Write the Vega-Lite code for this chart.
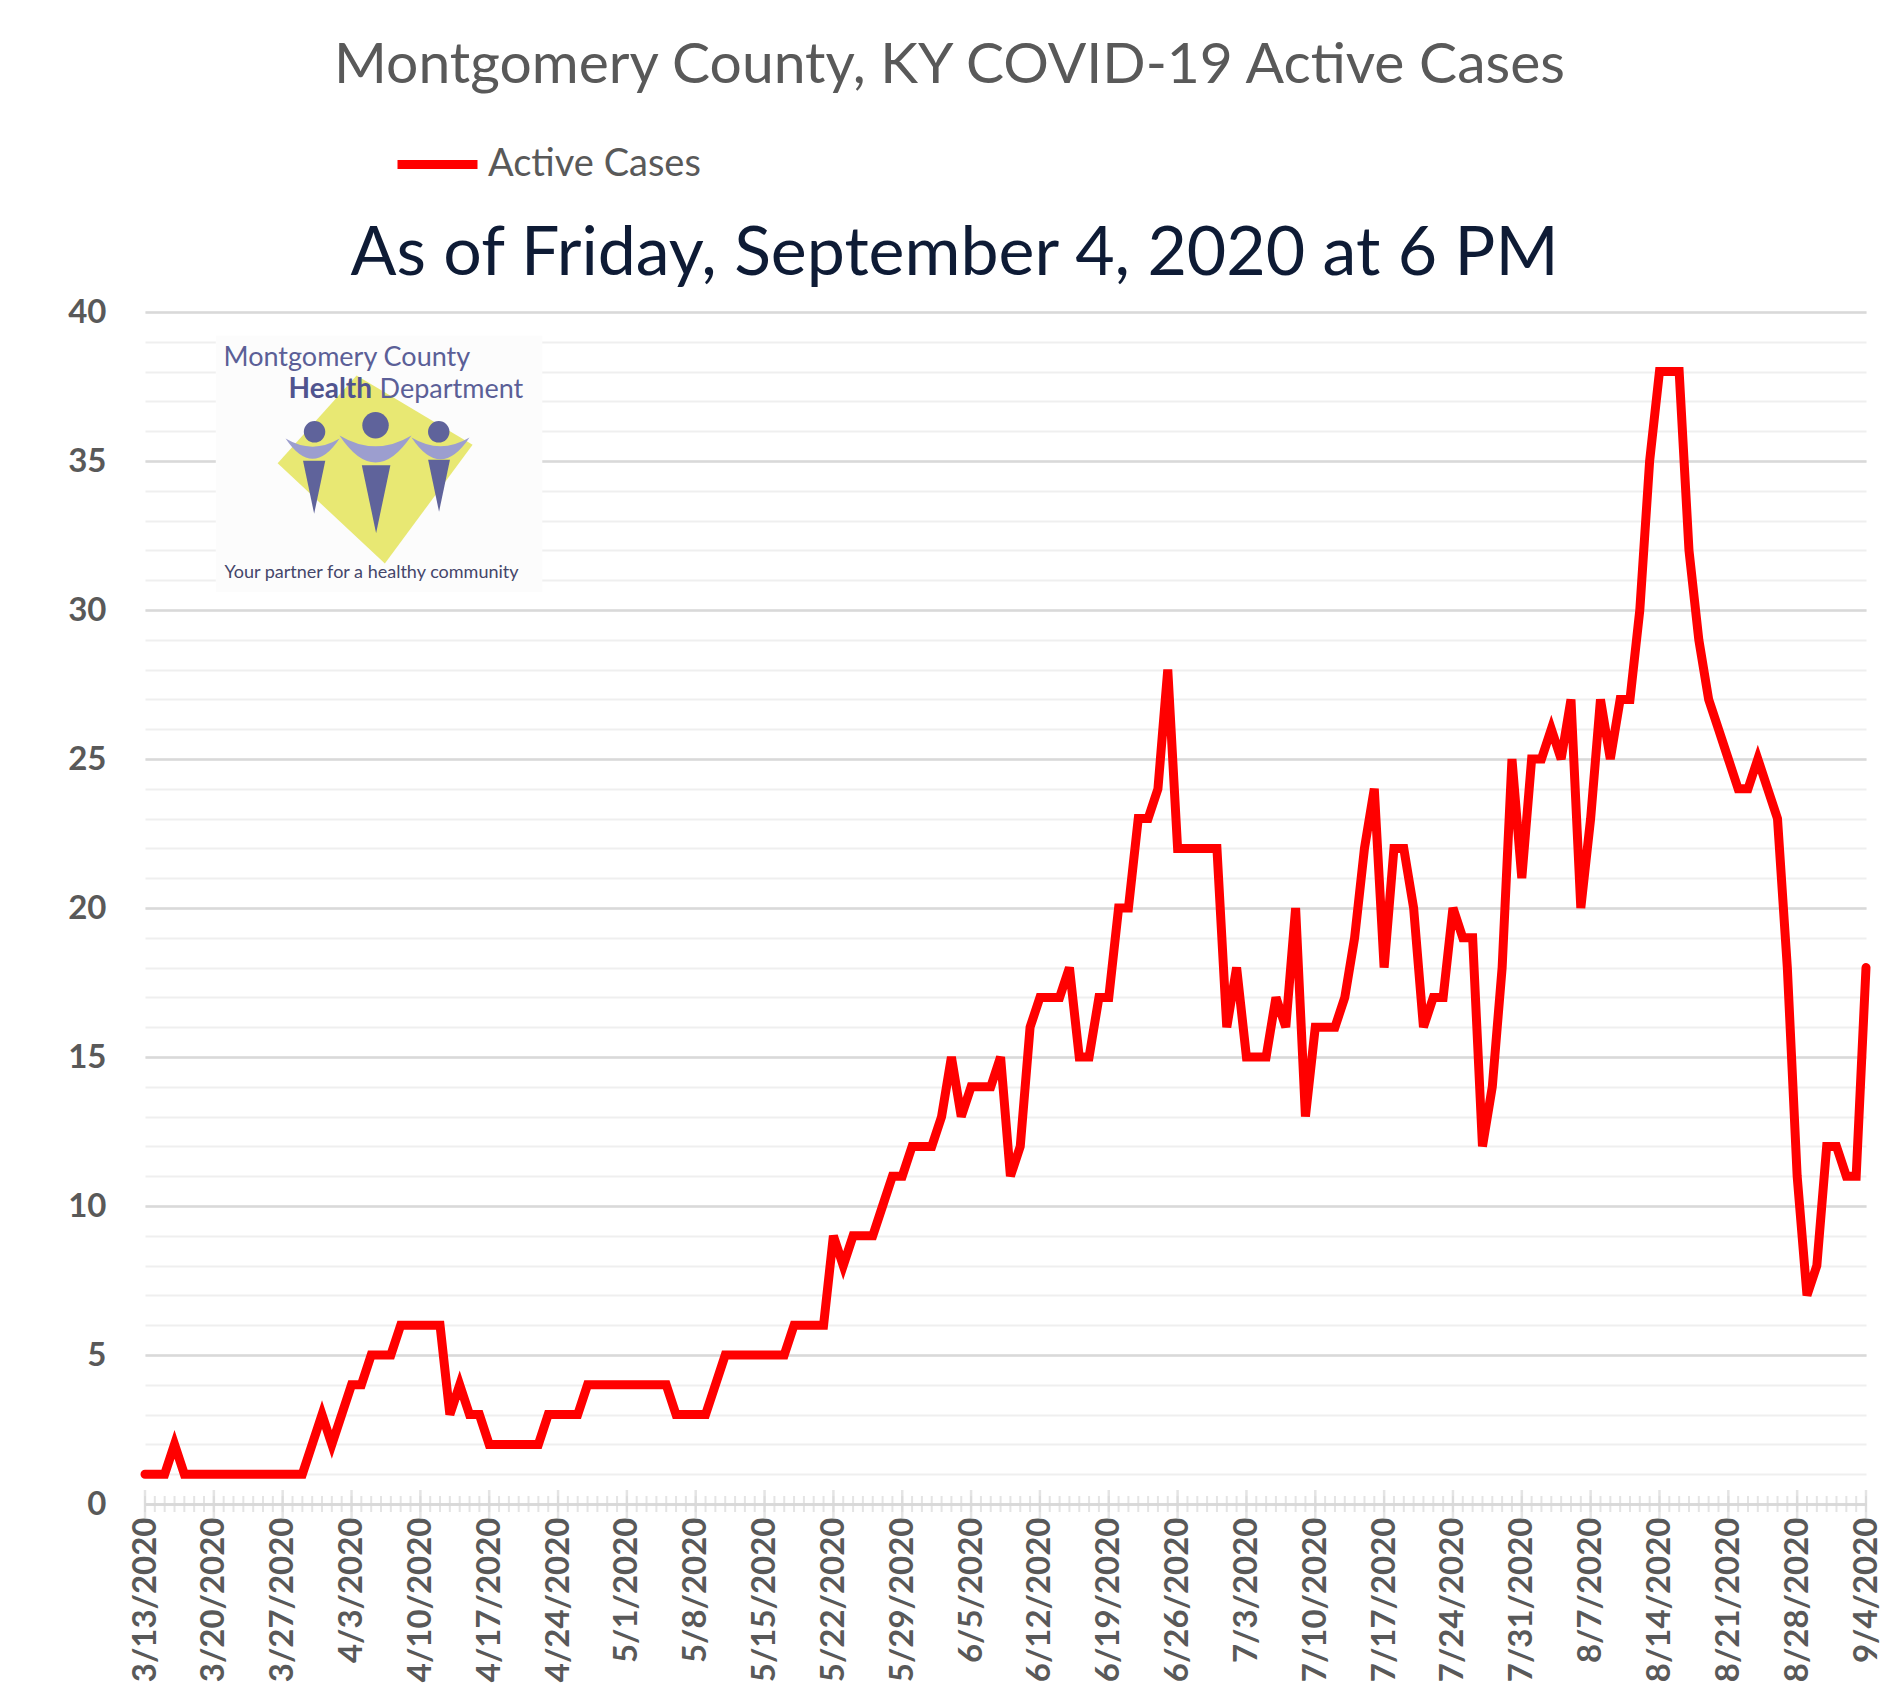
{
  "$schema": "https://vega.github.io/schema/vega-lite/v6.json",
  "width": 1721,
  "height": 1192,
  "autosize": {"type": "none"},
  "padding": {"left": 145, "top": 312, "right": 19, "bottom": 193},
  "background": "white",
  "title": {
    "text": "Montgomery County, KY COVID-19 Active Cases",
    "font": "Lato",
    "fontSize": 57,
    "fontWeight": "normal",
    "color": "#595959",
    "anchor": "middle",
    "frame": "group",
    "dx": -56,
    "offset": -20,
    "baseline": "alphabetic"
  },
  "datasets": {
    "cases": [
      {"date": "2020-03-13", "cases": 1}, {"date": "2020-03-14", "cases": 1}, {"date": "2020-03-15", "cases": 1},
      {"date": "2020-03-16", "cases": 2}, {"date": "2020-03-17", "cases": 1}, {"date": "2020-03-18", "cases": 1},
      {"date": "2020-03-19", "cases": 1}, {"date": "2020-03-20", "cases": 1}, {"date": "2020-03-21", "cases": 1},
      {"date": "2020-03-22", "cases": 1}, {"date": "2020-03-23", "cases": 1}, {"date": "2020-03-24", "cases": 1},
      {"date": "2020-03-25", "cases": 1}, {"date": "2020-03-26", "cases": 1}, {"date": "2020-03-27", "cases": 1},
      {"date": "2020-03-28", "cases": 1}, {"date": "2020-03-29", "cases": 1}, {"date": "2020-03-30", "cases": 2},
      {"date": "2020-03-31", "cases": 3},
      {"date": "2020-04-01", "cases": 2}, {"date": "2020-04-02", "cases": 3}, {"date": "2020-04-03", "cases": 4},
      {"date": "2020-04-04", "cases": 4}, {"date": "2020-04-05", "cases": 5}, {"date": "2020-04-06", "cases": 5},
      {"date": "2020-04-07", "cases": 5}, {"date": "2020-04-08", "cases": 6}, {"date": "2020-04-09", "cases": 6},
      {"date": "2020-04-10", "cases": 6}, {"date": "2020-04-11", "cases": 6}, {"date": "2020-04-12", "cases": 6},
      {"date": "2020-04-13", "cases": 3}, {"date": "2020-04-14", "cases": 4}, {"date": "2020-04-15", "cases": 3},
      {"date": "2020-04-16", "cases": 3}, {"date": "2020-04-17", "cases": 2}, {"date": "2020-04-18", "cases": 2},
      {"date": "2020-04-19", "cases": 2}, {"date": "2020-04-20", "cases": 2}, {"date": "2020-04-21", "cases": 2},
      {"date": "2020-04-22", "cases": 2}, {"date": "2020-04-23", "cases": 3}, {"date": "2020-04-24", "cases": 3},
      {"date": "2020-04-25", "cases": 3}, {"date": "2020-04-26", "cases": 3}, {"date": "2020-04-27", "cases": 4},
      {"date": "2020-04-28", "cases": 4}, {"date": "2020-04-29", "cases": 4}, {"date": "2020-04-30", "cases": 4},
      {"date": "2020-05-01", "cases": 4}, {"date": "2020-05-02", "cases": 4}, {"date": "2020-05-03", "cases": 4},
      {"date": "2020-05-04", "cases": 4}, {"date": "2020-05-05", "cases": 4}, {"date": "2020-05-06", "cases": 3},
      {"date": "2020-05-07", "cases": 3}, {"date": "2020-05-08", "cases": 3}, {"date": "2020-05-09", "cases": 3},
      {"date": "2020-05-10", "cases": 4}, {"date": "2020-05-11", "cases": 5}, {"date": "2020-05-12", "cases": 5},
      {"date": "2020-05-13", "cases": 5}, {"date": "2020-05-14", "cases": 5}, {"date": "2020-05-15", "cases": 5},
      {"date": "2020-05-16", "cases": 5}, {"date": "2020-05-17", "cases": 5}, {"date": "2020-05-18", "cases": 6},
      {"date": "2020-05-19", "cases": 6}, {"date": "2020-05-20", "cases": 6}, {"date": "2020-05-21", "cases": 6},
      {"date": "2020-05-22", "cases": 9}, {"date": "2020-05-23", "cases": 8}, {"date": "2020-05-24", "cases": 9},
      {"date": "2020-05-25", "cases": 9}, {"date": "2020-05-26", "cases": 9}, {"date": "2020-05-27", "cases": 10},
      {"date": "2020-05-28", "cases": 11}, {"date": "2020-05-29", "cases": 11}, {"date": "2020-05-30", "cases": 12},
      {"date": "2020-05-31", "cases": 12},
      {"date": "2020-06-01", "cases": 12}, {"date": "2020-06-02", "cases": 13}, {"date": "2020-06-03", "cases": 15},
      {"date": "2020-06-04", "cases": 13}, {"date": "2020-06-05", "cases": 14}, {"date": "2020-06-06", "cases": 14},
      {"date": "2020-06-07", "cases": 14}, {"date": "2020-06-08", "cases": 15}, {"date": "2020-06-09", "cases": 11},
      {"date": "2020-06-10", "cases": 12}, {"date": "2020-06-11", "cases": 16}, {"date": "2020-06-12", "cases": 17},
      {"date": "2020-06-13", "cases": 17}, {"date": "2020-06-14", "cases": 17}, {"date": "2020-06-15", "cases": 18},
      {"date": "2020-06-16", "cases": 15}, {"date": "2020-06-17", "cases": 15}, {"date": "2020-06-18", "cases": 17},
      {"date": "2020-06-19", "cases": 17}, {"date": "2020-06-20", "cases": 20}, {"date": "2020-06-21", "cases": 20},
      {"date": "2020-06-22", "cases": 23}, {"date": "2020-06-23", "cases": 23}, {"date": "2020-06-24", "cases": 24},
      {"date": "2020-06-25", "cases": 28}, {"date": "2020-06-26", "cases": 22}, {"date": "2020-06-27", "cases": 22},
      {"date": "2020-06-28", "cases": 22}, {"date": "2020-06-29", "cases": 22}, {"date": "2020-06-30", "cases": 22},
      {"date": "2020-07-01", "cases": 16}, {"date": "2020-07-02", "cases": 18}, {"date": "2020-07-03", "cases": 15},
      {"date": "2020-07-04", "cases": 15}, {"date": "2020-07-05", "cases": 15}, {"date": "2020-07-06", "cases": 17},
      {"date": "2020-07-07", "cases": 16}, {"date": "2020-07-08", "cases": 20}, {"date": "2020-07-09", "cases": 13},
      {"date": "2020-07-10", "cases": 16}, {"date": "2020-07-11", "cases": 16}, {"date": "2020-07-12", "cases": 16},
      {"date": "2020-07-13", "cases": 17}, {"date": "2020-07-14", "cases": 19}, {"date": "2020-07-15", "cases": 22},
      {"date": "2020-07-16", "cases": 24}, {"date": "2020-07-17", "cases": 18}, {"date": "2020-07-18", "cases": 22},
      {"date": "2020-07-19", "cases": 22}, {"date": "2020-07-20", "cases": 20}, {"date": "2020-07-21", "cases": 16},
      {"date": "2020-07-22", "cases": 17}, {"date": "2020-07-23", "cases": 17}, {"date": "2020-07-24", "cases": 20},
      {"date": "2020-07-25", "cases": 19}, {"date": "2020-07-26", "cases": 19}, {"date": "2020-07-27", "cases": 12},
      {"date": "2020-07-28", "cases": 14}, {"date": "2020-07-29", "cases": 18}, {"date": "2020-07-30", "cases": 25},
      {"date": "2020-07-31", "cases": 21},
      {"date": "2020-08-01", "cases": 25}, {"date": "2020-08-02", "cases": 25}, {"date": "2020-08-03", "cases": 26},
      {"date": "2020-08-04", "cases": 25}, {"date": "2020-08-05", "cases": 27}, {"date": "2020-08-06", "cases": 20},
      {"date": "2020-08-07", "cases": 23}, {"date": "2020-08-08", "cases": 27}, {"date": "2020-08-09", "cases": 25},
      {"date": "2020-08-10", "cases": 27}, {"date": "2020-08-11", "cases": 27}, {"date": "2020-08-12", "cases": 30},
      {"date": "2020-08-13", "cases": 35}, {"date": "2020-08-14", "cases": 38}, {"date": "2020-08-15", "cases": 38},
      {"date": "2020-08-16", "cases": 38}, {"date": "2020-08-17", "cases": 32}, {"date": "2020-08-18", "cases": 29},
      {"date": "2020-08-19", "cases": 27}, {"date": "2020-08-20", "cases": 26}, {"date": "2020-08-21", "cases": 25},
      {"date": "2020-08-22", "cases": 24}, {"date": "2020-08-23", "cases": 24}, {"date": "2020-08-24", "cases": 25},
      {"date": "2020-08-25", "cases": 24}, {"date": "2020-08-26", "cases": 23}, {"date": "2020-08-27", "cases": 18},
      {"date": "2020-08-28", "cases": 11}, {"date": "2020-08-29", "cases": 7}, {"date": "2020-08-30", "cases": 8},
      {"date": "2020-08-31", "cases": 12},
      {"date": "2020-09-01", "cases": 12}, {"date": "2020-09-02", "cases": 11}, {"date": "2020-09-03", "cases": 11},
      {"date": "2020-09-04", "cases": 18}
    ],
    "logo_box": [
      {"start": "2020-03-20T04:48:00Z", "end": "2020-04-22T09:36:00Z", "low": 30.6, "high": 39.2}
    ],
    "logo_shapes": [
      {"part": "diamond", "figure": "center", "date": "2020-04-05T09:36:00Z", "value": 34.73},
      {"part": "arm", "figure": "left", "date": "2020-03-30T01:00:00Z", "value": 35.3},
      {"part": "arm", "figure": "center", "date": "2020-04-05T10:34:00Z", "value": 35.25},
      {"part": "arm", "figure": "right", "date": "2020-04-12T01:12:00Z", "value": 35.3},
      {"part": "head", "figure": "left", "date": "2020-03-30T05:46:00Z", "value": 35.98},
      {"part": "head", "figure": "center", "date": "2020-04-05T10:34:00Z", "value": 36.2},
      {"part": "head", "figure": "right", "date": "2020-04-11T20:53:00Z", "value": 35.98},
      {"part": "body", "figure": "left", "date": "2020-03-30T04:48:00Z", "value": 34.12},
      {"part": "body", "figure": "center", "date": "2020-04-05T12:00:00Z", "value": 33.72},
      {"part": "body", "figure": "right", "date": "2020-04-11T21:36:00Z", "value": 34.17}
    ],
    "logo_text": [
      {"role": "regular", "label": "Montgomery County", "date": "2020-03-20T23:31:00Z", "value": 38.19},
      {"role": "bold", "label": "Health", "date": "2020-03-27T14:24:00Z", "value": 37.1},
      {"role": "regular", "label": "Department", "date": "2020-04-05T20:24:00Z", "value": 37.1},
      {"role": "tagline", "label": "Your partner for a healthy community", "date": "2020-03-21T01:55:00Z", "value": 31.06}
    ]
  },
  "layer": [
    {
      "data": {"name": "logo_box"},
      "mark": {"type": "rect", "color": "#fcfcfc"},
      "encoding": {
        "x": {"field": "start", "type": "temporal", "axis": null},
        "x2": {"field": "end"},
        "y": {"field": "low", "type": "quantitative", "axis": null},
        "y2": {"field": "high"}
      }
    },
    {
      "data": {"name": "cases"},
      "mark": {"type": "tick", "orient": "vertical", "size": 16, "thickness": 2, "color": "#d9d9d9"},
      "encoding": {
        "x": {
          "field": "date",
          "type": "temporal",
          "axis": {
            "orient": "top",
            "title": "As of Friday, September 4, 2020 at 6 PM",
            "titleFont": "Lato",
            "titleFontSize": 68,
            "titleFontWeight": "normal",
            "titleColor": "#0e1b35",
            "titleAlign": "center",
            "titleX": 809,
            "titleBaseline": "alphabetic",
            "titlePadding": 38,
            "labels": false,
            "ticks": false,
            "domain": false,
            "grid": false
          }
        },
        "y": {
          "datum": 0,
          "type": "quantitative",
          "axis": {
            "orient": "left",
            "values": [0, 1, 2, 3, 4, 5, 6, 7, 8, 9, 10, 11, 12, 13, 14, 15, 16, 17, 18, 19, 20, 21, 22, 23, 24, 25, 26, 27, 28, 29, 30, 31, 32, 33, 34, 35, 36, 37, 38, 39, 40],
            "grid": true,
            "gridColor": "#efefef",
            "gridWidth": 2,
            "labels": false,
            "ticks": false,
            "domain": false,
            "title": null
          }
        }
      }
    },
    {
      "data": {"name": "cases"},
      "transform": [{"filter": "utcday(toDate(datum.date)) == 5"}],
      "mark": {"type": "tick", "orient": "vertical", "size": 28, "thickness": 2.5, "color": "#d9d9d9"},
      "encoding": {
        "x": {"field": "date", "type": "temporal", "axis": null},
        "y": {"datum": 0, "type": "quantitative", "axis": null}
      }
    },
    {
      "data": {"name": "logo_shapes"},
      "transform": [{"filter": "datum.part == 'diamond'"}],
      "mark": {"type": "point", "shape": "M-0.19,-0.96L1,-0.25L0.1,0.97L-1,-0.06Z", "filled": true, "opacity": 1, "color": "#e8e873", "size": 38000, "strokeWidth": 0},
      "encoding": {
        "x": {"field": "date", "type": "temporal", "axis": null},
        "y": {"field": "value", "type": "quantitative", "axis": null}
      }
    },
    {
      "data": {"name": "logo_shapes"},
      "transform": [{"filter": "datum.part == 'arm'"}],
      "mark": {"type": "point", "shape": "M-1,-0.5Q0,1.0,1,-0.5Q0,0.1,-1,-0.5Z", "filled": true, "opacity": 1, "color": "#9c9ecf", "strokeWidth": 0},
      "encoding": {
        "x": {"field": "date", "type": "temporal", "axis": null},
        "y": {"field": "value", "type": "quantitative", "axis": null},
        "size": {"field": "figure", "type": "nominal", "scale": {"type": "ordinal", "domain": ["left", "center", "right"], "range": [2916, 5184, 3364]}, "legend": null}
      }
    },
    {
      "data": {"name": "logo_shapes"},
      "transform": [{"filter": "datum.part == 'body'"}],
      "mark": {"type": "point", "shape": "M-0.42,-1L0.42,-1L0,1Z", "filled": true, "opacity": 1, "color": "#5f639b", "strokeWidth": 0},
      "encoding": {
        "x": {"field": "date", "type": "temporal", "axis": null},
        "y": {"field": "value", "type": "quantitative", "axis": null},
        "size": {"field": "figure", "type": "nominal", "scale": {"type": "ordinal", "domain": ["left", "center", "right"], "range": [2809, 4624, 2700]}, "legend": null}
      }
    },
    {
      "data": {"name": "logo_shapes"},
      "transform": [{"filter": "datum.part == 'head'"}],
      "mark": {"type": "point", "shape": "circle", "filled": true, "opacity": 1, "color": "#5f639b", "strokeWidth": 0},
      "encoding": {
        "x": {"field": "date", "type": "temporal", "axis": null},
        "y": {"field": "value", "type": "quantitative", "axis": null},
        "size": {"field": "figure", "type": "nominal", "scale": {"type": "ordinal", "domain": ["left", "center", "right"], "range": [460, 700, 460]}, "legend": null}
      }
    },
    {
      "data": {"name": "logo_text"},
      "transform": [{"filter": "datum.role == 'regular'"}],
      "mark": {"type": "text", "align": "left", "baseline": "alphabetic", "font": "Lato", "fontSize": 27, "color": "#5b5f97"},
      "encoding": {
        "x": {"field": "date", "type": "temporal", "axis": null},
        "y": {"field": "value", "type": "quantitative", "axis": null},
        "text": {"field": "label"}
      }
    },
    {
      "data": {"name": "logo_text"},
      "transform": [{"filter": "datum.role == 'bold'"}],
      "mark": {"type": "text", "align": "left", "baseline": "alphabetic", "font": "Lato", "fontSize": 28, "fontWeight": "bold", "color": "#50548f"},
      "encoding": {
        "x": {"field": "date", "type": "temporal", "axis": null},
        "y": {"field": "value", "type": "quantitative", "axis": null},
        "text": {"field": "label"}
      }
    },
    {
      "data": {"name": "logo_text"},
      "transform": [{"filter": "datum.role == 'tagline'"}],
      "mark": {"type": "text", "align": "left", "baseline": "alphabetic", "font": "Lato", "fontSize": 18, "color": "#45466a"},
      "encoding": {
        "x": {"field": "date", "type": "temporal", "axis": null},
        "y": {"field": "value", "type": "quantitative", "axis": null},
        "text": {"field": "label"}
      }
    },
    {
      "data": {"name": "cases"},
      "mark": {"type": "line", "strokeWidth": 9, "strokeCap": "round"},
      "encoding": {
        "x": {
          "field": "date",
          "type": "temporal",
          "scale": {
            "type": "utc",
            "domain": [{"year": 2020, "month": 3, "date": 13, "utc": true}, {"year": 2020, "month": 9, "date": 4, "utc": true}]
          },
          "axis": {
            "orient": "bottom",
            "values": [
              {"year": 2020, "month": 3, "date": 13, "utc": true}, {"year": 2020, "month": 3, "date": 20, "utc": true},
              {"year": 2020, "month": 3, "date": 27, "utc": true}, {"year": 2020, "month": 4, "date": 3, "utc": true},
              {"year": 2020, "month": 4, "date": 10, "utc": true}, {"year": 2020, "month": 4, "date": 17, "utc": true},
              {"year": 2020, "month": 4, "date": 24, "utc": true}, {"year": 2020, "month": 5, "date": 1, "utc": true},
              {"year": 2020, "month": 5, "date": 8, "utc": true}, {"year": 2020, "month": 5, "date": 15, "utc": true},
              {"year": 2020, "month": 5, "date": 22, "utc": true}, {"year": 2020, "month": 5, "date": 29, "utc": true},
              {"year": 2020, "month": 6, "date": 5, "utc": true}, {"year": 2020, "month": 6, "date": 12, "utc": true},
              {"year": 2020, "month": 6, "date": 19, "utc": true}, {"year": 2020, "month": 6, "date": 26, "utc": true},
              {"year": 2020, "month": 7, "date": 3, "utc": true}, {"year": 2020, "month": 7, "date": 10, "utc": true},
              {"year": 2020, "month": 7, "date": 17, "utc": true}, {"year": 2020, "month": 7, "date": 24, "utc": true},
              {"year": 2020, "month": 7, "date": 31, "utc": true}, {"year": 2020, "month": 8, "date": 7, "utc": true},
              {"year": 2020, "month": 8, "date": 14, "utc": true}, {"year": 2020, "month": 8, "date": 21, "utc": true},
              {"year": 2020, "month": 8, "date": 28, "utc": true}, {"year": 2020, "month": 9, "date": 4, "utc": true}
            ],
            "format": "%-m/%-d/%Y",
            "labelAngle": -90,
            "labelAlign": "right",
            "labelBaseline": "middle",
            "labelFont": "Lato",
            "labelFontSize": 33,
            "labelFontWeight": "bold",
            "labelColor": "#595959",
            "labelPadding": 13,
            "labelOverlap": false,
            "labelFlush": false,
            "labelBound": false,
            "ticks": false,
            "domain": true,
            "domainColor": "#d9d9d9",
            "domainWidth": 2.5,
            "grid": false,
            "title": null
          }
        },
        "y": {
          "field": "cases",
          "type": "quantitative",
          "scale": {"domain": [0, 40], "nice": false},
          "axis": {
            "orient": "left",
            "values": [0, 5, 10, 15, 20, 25, 30, 35, 40],
            "grid": true,
            "gridColor": "#d9d9d9",
            "gridWidth": 2.5,
            "domain": false,
            "ticks": false,
            "labelFont": "Lato",
            "labelFontSize": 33,
            "labelFontWeight": "bold",
            "labelColor": "#595959",
            "labelPadding": 39,
            "labelFlush": false,
            "title": null
          }
        },
        "color": {
          "datum": "Active Cases",
          "type": "nominal",
          "scale": {"range": ["#ff0000"]},
          "legend": {
            "orient": "none",
            "legendX": 248,
            "legendY": -192,
            "title": null,
            "symbolType": "stroke",
            "symbolSize": 6400,
            "symbolStrokeWidth": 9,
            "labelFont": "Lato",
            "labelFontSize": 38,
            "labelColor": "#595959",
            "labelOffset": 6,
            "labelLimit": 0,
            "padding": 0
          }
        }
      }
    }
  ],
  "resolve": {
    "axis": {"x": "independent", "y": "independent"},
    "scale": {"size": "independent"}
  },
  "config": {
    "view": {"stroke": null},
    "font": "Lato"
  }
}
